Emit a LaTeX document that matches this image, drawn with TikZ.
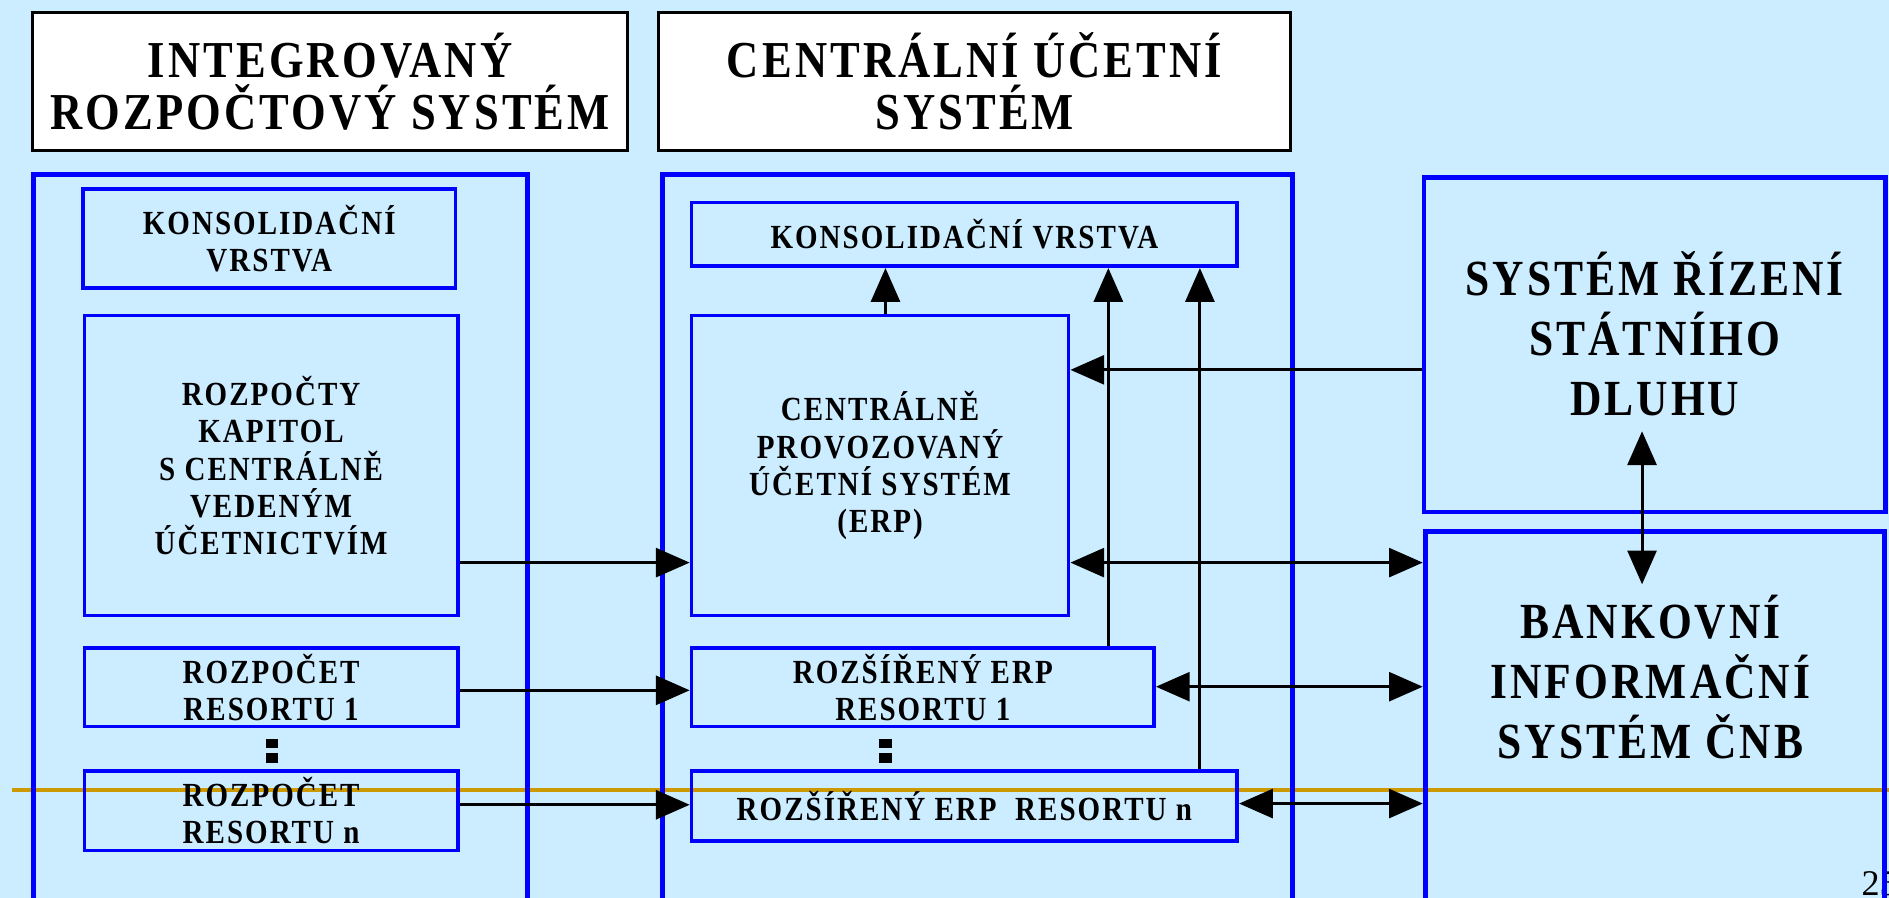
\documentclass[tikz,border=0pt]{standalone}
\usepackage{fontspec}
\setmainfont{Liberation Serif}
\newfontfamily\pf{Liberation Serif}[FakeStretch=0.86,LetterSpace=6]
\usetikzlibrary{arrows.meta,calc}
\definecolor{bg}{RGB}{204,236,255}
\definecolor{gold}{RGB}{204,153,0}
\definecolor{bblue}{RGB}{0,0,255}
\begin{document}
\begin{tikzpicture}[x=1pt,y=-1pt,
 box/.style={draw=bblue,line width=3pt,inner sep=0pt,align=center,font=\pf\bfseries\fontsize{28}{31}\selectfont},
 cont/.style={draw=bblue,line width=4pt,inner sep=0pt,anchor=north west},
 ttl/.style={draw=black,fill=white,line width=2.5pt,inner sep=0pt,align=center,font=\pf\bfseries\fontsize{43}{43}\selectfont},
 big/.style={align=center,inner sep=0pt,font=\pf\bfseries\fontsize{42}{50}\selectfont},
 arr/.style={line width=2.5pt,-{Triangle[length=28pt,width=24pt]}},
 arrb/.style={line width=2.5pt,{Triangle[length=28pt,width=24pt]}-{Triangle[length=28pt,width=24pt]}},
]
\fill[bg] (0,0) rectangle (1568,745);
\useasboundingbox (0,0) rectangle (1568,745);
\draw[gold,line width=3.5pt] (10,656) -- (1568,656);
\node[anchor=base west,inner sep=0pt,font=\fontsize{30}{30}\selectfont] (pg) at (1545,743) {25};

% titles
\node[ttl,minimum width=494,minimum height=115] (t1) at (274,67.5) {INTEGROVANÝ\\ROZPOČTOVÝ SYSTÉM};
\node[ttl,minimum width=524,minimum height=115] (t2) at (809,67.5) {CENTRÁLNÍ ÚČETNÍ\\SYSTÉM};

% containers
\node[cont,minimum width=410,minimum height=640] (lc) at (26,143) {};
\node[cont,minimum width=523,minimum height=640] (mc) at (548,143) {};
\node[box,line width=4pt,minimum width=383,minimum height=278] (srsd) at (1373.5,286) {};
\node[big] (srsdt) at (1373.5,277) {SYSTÉM ŘÍZENÍ\\STÁTNÍHO\\DLUHU};
\node[cont,minimum width=381,minimum height=360] (bis) at (1181,439) {};
\node[big] (bist) at (1370,562) {BANKOVNÍ\\INFORMAČNÍ\\SYSTÉM ČNB};

% left column
\node[box,minimum width=309,minimum height=82] (kv1) at (223.5,198) {KONSOLIDAČNÍ\\VRSTVA};
\node[box,minimum width=310,minimum height=249] (rk) at (225,386.5) {ROZPOČTY\\KAPITOL\\S CENTRÁLNĚ\\VEDENÝM\\ÚČETNICTVÍM};
\node[box,minimum width=310,minimum height=65] (rr1) at (225,570.5) {ROZPOČET\\RESORTU 1};
\node[box,minimum width=310,minimum height=66] (rrn) at (225,673) {ROZPOČET\\RESORTU n};
\fill (221,613) rectangle (231,621);
\fill (221,625) rectangle (231,633);

% middle column
\node[box,minimum width=453,minimum height=53] (kv2) at (800.5,194.5) {KONSOLIDAČNÍ VRSTVA};
\node[box,minimum width=313,minimum height=249] (erp) at (730.5,386.5) {CENTRÁLNĚ\\PROVOZOVANÝ\\ÚČETNÍ SYSTÉM\\(ERP)};
\node[box,minimum width=384,minimum height=65] (erp1) at (766,570.5) {ROZŠÍŘENÝ ERP\\RESORTU 1};
\node[box,minimum width=453,minimum height=58] (erpn) at (800.5,669) {ROZŠÍŘENÝ ERP\ \ RESORTU n};
\fill (730,613) rectangle (740,621);
\fill (730,625) rectangle (740,633);

% connectors
\draw[arr] (erp.north -| 735,0) -- (kv2.south -| 735,0);
\draw[arr] (erp1.north -| 920,0) -- (kv2.south -| 920,0);
\draw[arr] (erpn.north -| 996,0) -- (kv2.south -| 996,0);
\draw[arr] (srsd.west |- 0,307) -- (erp.east |- 0,307);
\draw[arrb] (erp.east |- 0,467) -- (bis.west |- 0,467);
\draw[arrb] (erp1.east |- 0,570) -- (bis.west |- 0,570);
\draw[arrb] (erpn.east |- 0,667) -- (bis.west |- 0,667);
\draw[arr] (rk.east |- 0,467) -- (erp.west |- 0,467);
\draw[arr] (rr1.east |- 0,573) -- (erp1.west |- 0,573);
\draw[arr] (rrn.east |- 0,668) -- (erpn.west |- 0,668);
\coordinate (d1) at (1363,358);
\coordinate (d2) at (1363,485);
\draw[arrb] (d1) -- (d2);
\end{tikzpicture}
\end{document}
